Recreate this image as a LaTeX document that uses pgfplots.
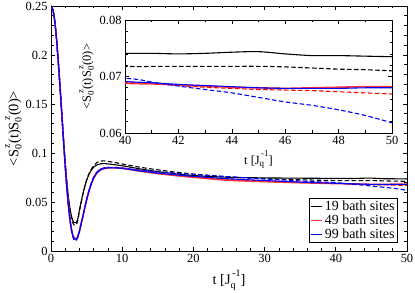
\documentclass[border=0pt]{standalone}
\usepackage{pgfplots}
\pgfplotsset{compat=1.18}
\usepackage{pgfplotstable}
\usepackage{fontspec}
\setmainfont{Liberation Serif}
\newcommand{\Sz}[1]{S\rlap{\raisebox{-0.5ex}{\fontsize{#1}{#1}\selectfont 0}}\raisebox{1.3ex}{\fontsize{#1}{#1}\selectfont \,z}}
\newcommand{\Jq}[1]{J\rlap{\raisebox{-0.5ex}{\fontsize{#1}{#1}\selectfont q}}\raisebox{1.3ex}{\fontsize{#1}{#1}\selectfont \,-1}}
\pgfplotstableread{
t bs bd rs rd us ud
0 .25 .25 .25 .25 .25 .25
0.25 .2465 .2465 .2465 .2465 .2465 .2465
0.5 .236 .236 .236 .236 .236 .236
0.75 .2185 .2185 .2185 .2185 .2185 .2185
1.0 .1955 .1955 .1955 .1955 .1955 .1955
1.25 .1695 .1695 .1695 .1695 .1695 .1695
1.5 .1420 .1418 .1415 .1415 .1415 .1415
1.75 .1150 .1145 .1135 .1135 .1135 .1135
2.0 .0900 .0892 .0865 .0868 .0865 .0862
2.25 .0690 .0675 .0625 .0630 .0625 .0620
2.5 .0520 .0500 .0425 .0432 .0425 .0420
2.75 .0400 .0375 .0275 .0285 .0275 .0268
3.0 .0325 .0300 .0175 .0185 .0175 .0165
3.25 .0290 .0265 .0125 .0135 .0125 .0112
3.5 .0290 .0265 .0118 .0128 .0118 .0105
3.75 .0325 .0305 .0145 .0155 .0145 .0135
4.0 .0420 .0410 .0205 .0215 .0205 .0200
4.5 .0590 .0585 .0360 .0370 .0360 .0360
5.0 .0720 .0725 .0520 .0530 .0520 .0525
5.5 .0805 .0815 .0650 .0660 .0650 .0660
6.0 .0855 .0870 .0745 .0755 .0745 .0755
6.5 .0880 .0905 .0800 .0810 .0800 .0810
7.0 .0890 .0918 .0830 .0838 .0830 .0838
7.5 .0892 .0920 .0843 .0850 .0843 .0850
8.0 .0889 .0915 .0848 .0853 .0848 .0853
9.0 .0880 .0903 .0848 .0852 .0848 .0853
10 .0870 .0888 .0843 .0846 .0843 .0848
12.5 .0838 .0855 .0815 .0820 .0817 .0825
15 .0810 .0828 .0790 .0795 .0795 .0808
17.5 .0788 .0805 .0770 .0775 .0777 .0795
20 .0770 .0785 .0752 .0758 .0762 .0782
25 .0752 .0756 .0722 .0733 .0737 .0758
30 .0746 .0738 .0708 .0716 .0719 .0735
35 .0743 .0727 .0697 .0702 .0703 .0715
40 .0741 .0718 .0688 .0690 .0691 .0697
41 .0741 .0718 .0687 .0688 .0689 .0690
42 .0740 .0718 .0685 .0684 .0686 .0683
43 .0741 .0718 .0683 .0681 .0684 .0677
44 .0743 .0718 .0681 .0679 .0682 .0671
45 .0744 .0718 .0680 .0677 .0680 .0663
46 .0740 .0717 .0679 .0676 .0679 .0655
47 .0737 .0715 .0680 .0675 .0679 .0649
48 .0737 .0713 .0681 .0673 .0679 .0641
49 .0736 .0712 .0682 .0671 .0680 .0631
50 .0735 .0710 .0682 .0669 .0680 .0618
}\datatable
\pgfplotsset{
  grace/.style={
    scale only axis,
    tick align=inside,
    axis line style={line width=0.9bp},
    major tick length=4bp,
    minor tick length=2.5bp,
    every tick/.style={black, line width=0.6bp},
    tick label style={font=\fontsize{12.5}{14}\selectfont},
    label style={font=\fontsize{14.5}{16}\selectfont},
    /pgf/number format/assume math mode=true,
    scaled ticks=false,
    clip=true,
  },
  sol/.style={line width=1.1bp, smooth, no marks},
  dsh/.style={line width=1.1bp, smooth, no marks, dash pattern=on 4.5bp off 2.5bp},
}
\begin{document}
\begin{tikzpicture}
\path[use as bounding box] (-51bp,-42bp) rectangle (364bp,251bp);
\begin{axis}[grace,
  at={(0,0)}, anchor=south west,
  width=356bp, height=245bp,
  xmin=0, xmax=50, ymin=0, ymax=0.25,
  xtick={0,10,...,50}, minor x tick num=4,
  ytick={0,0.05,0.1,0.15,0.2,0.25}, minor y tick num=4,
  yticklabel style={/pgf/number format/fixed, /pgf/number format/precision=2},
  xlabel={t [\Jq{10}]},
  ylabel={<\Sz{10}(t)\Sz{10}(0)>},
  ylabel style={yshift=-3bp},
  legend style={at={(1,0)}, anchor=south east, xshift=-9bp, yshift=8bp,
    draw=black, line width=0.8bp, font=\fontsize{14}{15}\selectfont,
    inner sep=1bp, row sep=-1.5bp, cells={anchor=west}},
  legend image code/.code={\draw[#1, line width=1bp] (0bp,0bp) -- (11bp,0bp);},
]
\addplot[sol, black] table[x=t, y=bs] {\datatable};
\addlegendentry{19 bath sites}
\addplot[dsh, black, forget plot] table[x=t, y=bd] {\datatable};
\addplot[dsh, red, forget plot] table[x=t, y=rd] {\datatable};
\addplot[sol, red!80!white, line width=1.6bp] table[x=t, y=rs] {\datatable};
\addlegendentry{49 bath sites}
\addplot[dsh, blue, forget plot] table[x=t, y=ud] {\datatable};
\addplot[sol, blue] table[x=t, y=us] {\datatable};
\addlegendentry{99 bath sites}
\end{axis}
\begin{axis}[grace,
  at={(74bp,118bp)}, anchor=south west,
  width=267bp, height=113bp,
  axis background/.style={fill=white},
  xmin=40, xmax=50, ymin=0.06, ymax=0.08,
  xtick={40,42,...,50}, minor x tick num=1,
  ytick={0.06,0.07,0.08}, minor y tick num=4,
  yticklabel style={/pgf/number format/fixed, /pgf/number format/fixed zerofill, /pgf/number format/precision=2},
  xlabel={t [\Jq{9}]},
  ylabel={<\Sz{9}(t)\Sz{9}(0)>},
  label style={font=\fontsize{12.5}{14}\selectfont},
  xlabel style={yshift=1bp},
  ylabel style={yshift=-1bp},
]
\addplot[sol, black] table[x=t, y=bs] {\datatable};
\addplot[dsh, black] table[x=t, y=bd] {\datatable};
\addplot[dsh, red] table[x=t, y=rd] {\datatable};
\addplot[sol, red!80!white, line width=1.6bp] table[x=t, y=rs] {\datatable};
\addplot[dsh, blue] table[x=t, y=ud] {\datatable};
\addplot[sol, blue] table[x=t, y=us] {\datatable};
\end{axis}
\end{tikzpicture}
\end{document}
